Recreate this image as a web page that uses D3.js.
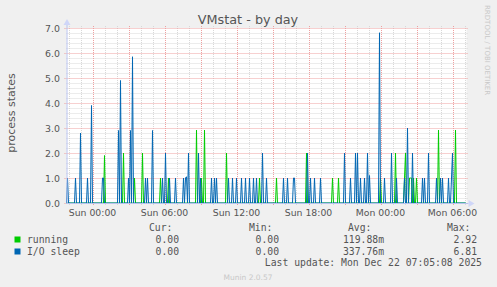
<!DOCTYPE html>
<html>
<head>
<meta charset="utf-8">
<script src="https://cdn.jsdelivr.net/npm/d3@7"></script>
<style>
  body { margin: 0; background: #f0f0f0; }
  svg { display: block; }
</style>
</head>
<body>
<script>
// Samples are 5 minutes apart, 400 of them; only non-zero samples are listed
const sampleCount = 400;
const endTime = new Date(Date.UTC(2025, 11, 22, 7, 10));

const runningAt  = [38, 57, 68, 76, 94, 102, 130, 135, 138, 160, 193, 210, 240, 266, 272,
                    314, 329, 338, 339, 343, 344, 345, 347, 350, 372, 389];
const runningVal = [1.9, 2.0, 1.0, 2.0, 1.0, 1.0, 2.92, 1.0, 2.92, 2.0, 1.0, 1.0, 2.0, 1.0, 1.0,
                    1.0, 2.0, 1.0, 2.0, 1.0, 1.0, 1.0, 1.0, 1.0, 2.92, 2.92];

const ioSleepAt  = [1, 9, 14, 21, 25, 36, 37, 52, 54, 62, 64, 66, 79, 81, 86, 96, 99, 103, 109,
                    117, 119, 120, 122, 132, 134, 145, 148, 150, 162, 166, 170, 175, 179, 183,
                    187, 190, 196, 200, 217, 221, 227, 228, 241, 244, 248, 254, 278, 284, 289,
                    291, 294, 298, 301, 303, 313, 318, 325, 330, 338, 341, 346, 356, 358, 362,
                    370, 374, 376, 382, 385, 386];
const ioSleepVal = [1.0, 1.0, 2.8, 1.0, 3.9, 1.0, 1.0, 2.9, 4.9, 1.0, 2.9, 5.85, 1.0, 1.0, 2.9, 1.0, 2.0, 1.0, 1.0,
                    1.0, 1.0, 1.05, 2.0, 2.0, 1.0, 1.0, 1.0, 1.0, 1.0, 1.0, 1.0, 1.0, 1.0, 1.0,
                    1.0, 1.0, 2.0, 1.0, 1.0, 1.0, 1.0, 1.0, 2.0, 1.0, 1.0, 1.0, 2.0, 1.0, 2.0,
                    2.0, 1.0, 1.0, 2.0, 1.1, 6.81, 1.0, 2.0, 1.0, 1.0, 3.0, 2.0, 1.0, 1.0, 2.0,
                    1.0, 1.0, 1.0, 1.0, 1.0, 2.0];

const seriesNames  = ['running', 'I/O sleep'];
const seriesColors = ['#00cc00', '#0066b3'];
const curValues = ['0.00', '0.00'];
const minValues = ['0.00', '0.00'];
const avgValues = ['119.88m', '337.76m'];
const maxValues = ['2.92', '6.81'];
const yTicks = [0, 1, 2, 3, 4, 5, 6, 7];

const width = 497;
const height = 287;
const plotLeft = 66.5, plotRight = 466.5, plotTop = 28, plotBottom = 203;

const startTime = new Date(endTime.getTime() - sampleCount * 300000);

const buildSeries = (at, val) => {
  const values = new Array(sampleCount).fill(0);
  at.forEach((i, k) => { values[i] = val[k]; });
  return values.map((v, i) => ({ t: new Date(startTime.getTime() + i * 300000), v: v }));
};

const series = [buildSeries(runningAt, runningVal), buildSeries(ioSleepAt, ioSleepVal)];

const svg = d3.select('body')
              .append('svg')
              .attr('width', width)
              .attr('height', height);

const xScale = d3.scaleUtc()
                 .domain([startTime, endTime])
                 .range([plotLeft, plotRight]);

const yScale = d3.scaleLinear()
                 .domain([0, 7])
                 .range([plotBottom, plotTop]);

// Canvas
svg.append('rect')
   .attr('x', plotLeft).attr('y', plotTop)
   .attr('width', plotRight - plotLeft).attr('height', plotBottom - plotTop)
   .attr('fill', '#ffffff');

// Minor grid
const minorY = d3.range(0, 7.01, 0.2).filter((v) => Math.abs(v - Math.round(v)) > 0.01);
svg.append('g').selectAll('line')
   .data(minorY)
   .enter().append('line')
   .attr('x1', plotLeft).attr('x2', plotRight + 1.5)
   .attr('y1', (d) => Math.round(yScale(d)) + 0.5)
   .attr('y2', (d) => Math.round(yScale(d)) + 0.5)
   .attr('stroke', '#d8d8d8')
   .attr('stroke-dasharray', '1,1');

const hours = d3.utcHour.range(startTime, endTime);
svg.append('g').selectAll('line')
   .data(hours.filter((d) => d.getUTCHours() % 3 !== 0))
   .enter().append('line')
   .attr('x1', (d) => Math.round(xScale(d)) + 0.5)
   .attr('x2', (d) => Math.round(xScale(d)) + 0.5)
   .attr('y1', plotTop - 2).attr('y2', plotBottom + 2)
   .attr('stroke', '#d8d8d8')
   .attr('stroke-dasharray', '1,1');

// Major grid
svg.append('g').selectAll('line')
   .data(yTicks)
   .enter().append('line')
   .attr('x1', plotLeft - 2).attr('x2', plotRight + 1.5)
   .attr('y1', (d) => Math.round(yScale(d)) + 0.5)
   .attr('y2', (d) => Math.round(yScale(d)) + 0.5)
   .attr('stroke', '#eea0a0')
   .attr('stroke-dasharray', '1,1');

svg.append('g').selectAll('line')
   .data(hours.filter((d) => d.getUTCHours() % 3 === 0))
   .enter().append('line')
   .attr('x1', (d) => Math.round(xScale(d)) + 0.5)
   .attr('x2', (d) => Math.round(xScale(d)) + 0.5)
   .attr('y1', plotTop - 2).attr('y2', plotBottom + 3)
   .attr('stroke', '#eea0a0')
   .attr('stroke-dasharray', '1,1');

// Data lines
const line = d3.line()
               .x((d) => xScale(d.t))
               .y((d) => yScale(d.v));

series.forEach((s, i) => {
  svg.append('path')
     .datum(s)
     .attr('d', line)
     .attr('fill', 'none')
     .attr('stroke', seriesColors[i])
     .attr('stroke-width', 1);
});

// Axes and arrows
const axisColor = '#b8c2ee';
svg.append('line')
   .attr('x1', plotLeft).attr('x2', plotRight + 2)
   .attr('y1', plotBottom + 0.5).attr('y2', plotBottom + 0.5)
   .attr('stroke', axisColor);
svg.append('line')
   .attr('x1', plotLeft + 0.5).attr('x2', plotLeft + 0.5)
   .attr('y1', plotTop - 4).attr('y2', plotBottom + 1)
   .attr('stroke', axisColor);
svg.append('path')
   .attr('d', `M${plotRight + 2},${plotBottom - 3} L${plotRight + 8},${plotBottom + 0.5} L${plotRight + 2},${plotBottom + 4} Z`)
   .attr('fill', '#cfd6f8');
svg.append('path')
   .attr('d', `M${plotLeft - 3},${plotTop - 3} L${plotLeft + 0.5},${plotTop - 9} L${plotLeft + 4},${plotTop - 3} Z`)
   .attr('fill', '#cfd6f8');

// Tick labels
const tickFont = 'DejaVu Sans, sans-serif';
svg.append('g').selectAll('text')
   .data(yTicks)
   .enter().append('text')
   .attr('x', 60)
   .attr('y', (d) => yScale(d) + 3.5)
   .attr('text-anchor', 'end')
   .attr('font-family', tickFont)
   .attr('font-size', 9.4)
   .attr('fill', '#555')
   .text((d) => d.toFixed(1));

const fmt = d3.utcFormat('%a %H:%M');
svg.append('g').selectAll('text')
   .data(d3.utcHour.every(6).range(startTime, endTime))
   .enter().append('text')
   .attr('x', (d) => xScale(d))
   .attr('y', 216)
   .attr('text-anchor', 'middle')
   .attr('font-family', tickFont)
   .attr('font-size', 9.3)
   .attr('fill', '#555')
   .text((d) => fmt(d));

// Title and axis label
svg.append('text')
   .attr('x', 248).attr('y', 23.5)
   .attr('text-anchor', 'middle')
   .attr('font-family', tickFont)
   .attr('font-size', 12.8)
   .attr('fill', '#555')
   .text('VMstat - by day');

svg.append('text')
   .attr('transform', 'translate(15,113) rotate(-90)')
   .attr('text-anchor', 'middle')
   .attr('font-family', tickFont)
   .attr('font-size', 11)
   .attr('fill', '#555')
   .text('process states');

svg.append('text')
   .attr('transform', 'translate(485,5) rotate(90)')
   .attr('font-family', tickFont)
   .attr('font-size', 7)
   .attr('fill', '#c8c8c8')
   .text('RRDTOOL / TOBI OETIKER');

// Legend
const mono = 'DejaVu Sans Mono, monospace';
const legend = svg.append('g')
                  .attr('font-family', mono)
                  .attr('font-size', 9.75)
                  .attr('fill', '#555');

const headers = [['Cur:', 149], ['Min:', 249], ['Avg:', 348], ['Max:', 447]];
headers.forEach((h) => {
  legend.append('text').attr('x', h[1]).attr('y', 231).text(h[0]);
});

const columns = [[curValues, 179], [minValues, 279], [avgValues, 384], [maxValues, 477]];
seriesNames.forEach((name, i) => {
  const y = 243 + i * 12;
  svg.append('rect')
     .attr('x', 14.5).attr('y', y - 6.5)
     .attr('width', 6).attr('height', 6)
     .attr('fill', seriesColors[i]);
  legend.append('text').attr('x', 27).attr('y', y).text(name);
  columns.forEach((c) => {
    legend.append('text')
          .attr('x', c[1]).attr('y', y)
          .attr('text-anchor', 'end')
          .text(c[0][i]);
  });
});

legend.append('text')
      .attr('x', 482).attr('y', 266)
      .attr('text-anchor', 'end')
      .text('Last update: Mon Dec 22 07:05:08 2025');

svg.append('text')
   .attr('x', 248).attr('y', 280)
   .attr('text-anchor', 'middle')
   .attr('font-family', tickFont)
   .attr('font-size', 7.5)
   .attr('fill', '#c8c8c8')
   .text('Munin 2.0.57');
</script>
</body>
</html>
